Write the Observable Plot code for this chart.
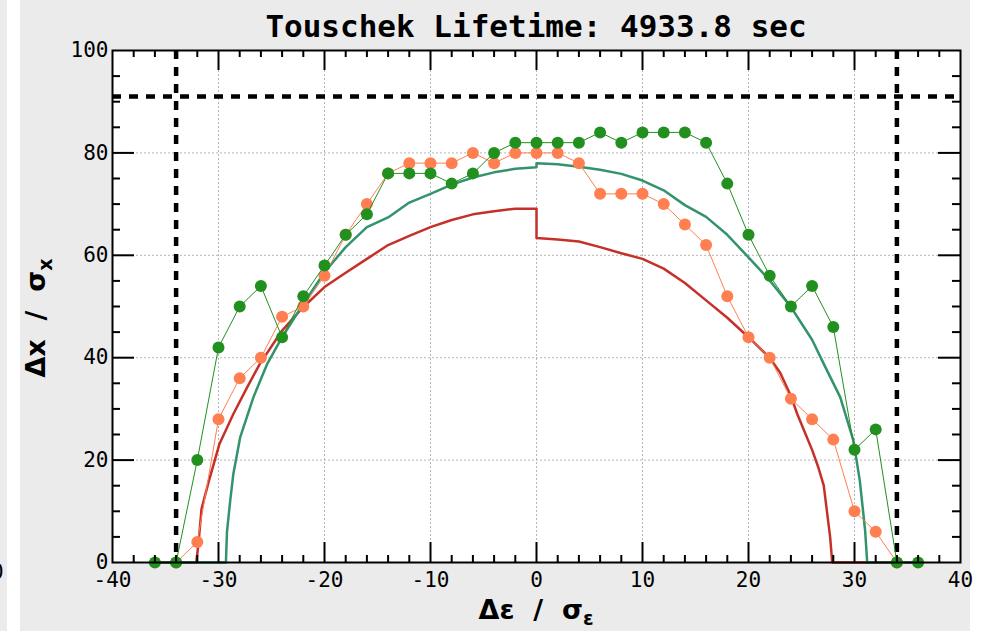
<!DOCTYPE html>
<html><head><meta charset="utf-8">
<script src="https://cdn.jsdelivr.net/npm/d3@7"></script>
<script src="https://cdn.jsdelivr.net/npm/@observablehq/plot@0.6"></script>
<style>
html,body{margin:0;padding:0;background:#fff;width:982px;height:631px;overflow:hidden}
#strip{position:absolute;left:0;top:0;width:7px;height:631px;background:#ebebeb;overflow:hidden}
#strip span{position:absolute;left:-9px;top:560px;font:21px "DejaVu Sans Mono";color:#000}
#chart{position:absolute;left:20px;top:0}
</style>
</head><body>
<div id="strip"><span>0</span></div>
<div id="chart"></div>
<script>
// ---- data ----
const titleText = "Touschek Lifetime: 4933.8 sec";
const xTicks = [-40, -30, -20, -10, 0, 10, 20, 30, 40];
const yTicks = [0, 20, 40, 60, 80, 100];
const gridX = [-30, -20, -10, 0, 10, 20, 30];
const gridY = [20, 40, 60, 80];
const limitX = [-34, 34];
const limitY = [91];

const greenX = [-36,-34,-32,-30,-28,-26,-24,-22,-20,-18,-16,-14,-12,-10,-8,-6,-4,-2,0,2,4,6,8,10,12,14,16,18,20,22,24,26,28,30,32,34,36];
const greenY = [0,0,20,42,50,54,44,52,58,64,68,76,76,76,74,76,80,82,82,82,82,84,82,84,84,84,82,74,64,56,50,54,46,22,26,0,0];

const orangeX = [-34,-32,-30,-28,-26,-24,-22,-20,-18,-16,-14,-12,-10,-8,-6,-4,-2,0,2,4,6,8,10,12,14,16,18,20,22,24,26,28,30,32,34];
const orangeY = [0,4,28,36,40,48,50,56,64,70,76,78,78,78,80,78,80,80,80,78,72,72,72,70,66,62,52,44,40,32,28,24,10,6,0];

const redX = [-36,-32.1,-31.9,-31.6,-30.9,-29.9,-28.6,-27.3,-26.1,-24,-22,-20,-18,-16,-14,-12,-10,-8,-6,-4,-2,0,0,2,4,6,8,10,12,14,16,18,20,22,23,24,24.6,25.3,26,26.6,27.1,27.4,27.7,27.9,36];
const redY = [0,0,3.5,10.5,16,23.2,29,34.2,38.8,45.3,49.9,53.8,56.6,59.3,62,63.8,65.5,66.9,68,68.6,69.1,69.1,63.4,63.1,62.7,61.6,60.4,59.3,57.4,54.6,51.2,47.8,44,40,37,32.5,29,25.5,22,18.5,15,10,5,0,0];

const tealX = [-36,-29.3,-29.2,-28.9,-28.6,-27.95,-26.7,-25.4,-24,-22,-20,-18,-16,-14,-12,-10,-8,-6,-4,-2,0,0,2,4,6,8,10,12,14,16,18,20,22,24,26,27.1,28.65,29.9,30.5,31,31.2,36];
const tealY = [0,0,6,12,17.3,24.5,32.3,38.8,44,50.5,56.7,61.6,65.5,67.4,70.3,72,73.8,75.2,76.2,76.9,77.2,78,77.8,77.3,76.7,75.9,74.6,72.7,69.8,67.5,64,59.6,55.1,49.9,43.5,38.8,32.3,23.8,16,6.3,0,0];

const xMinor = d3.range(-38, 40, 2).filter(v => v % 10 !== 0);
const xMajor = [-30, -20, -10, 0, 10, 20, 30];
const yMinor = [5, 10, 15, 25, 30, 35, 45, 50, 55, 65, 70, 75, 85, 90, 95];
const yMajor = [20, 40, 60, 80];

// ---- build ----
const zip = (xs, ys) => xs.map((x, i) => ({x, y: ys[i]}));
const green = zip(greenX, greenY);
const orange = zip(orangeX, orangeY);
const red = zip(redX, redY);
const teal = zip(tealX, tealY);

const W = 950, H = 631, mL = 92, mR = 10, mT = 50, mB = 69;
const pW = W - mL - mR, pH = H - mT - mB;

const cGreen = "#22901f", cOrange = "#ff7f50", cTeal = "#33936c", cRed = "#c5312a";

const plot = Plot.plot({
  width: W, height: H,
  marginLeft: mL, marginRight: mR, marginTop: mT, marginBottom: mB,
  x: {domain: [-40, 40]},
  y: {domain: [0, 100]},
  style: {background: "#ebebeb", fontFamily: "DejaVu Sans Mono", fontSize: "21px", color: "#000", overflow: "visible"},
  marks: [
    Plot.frame({fill: "white", stroke: null}),
    Plot.ruleX(gridX, {x: d => d, stroke: "#b5b5b5", strokeWidth: 1, strokeDasharray: "2,2"}),
    Plot.ruleY(gridY, {y: d => d, stroke: "#b5b5b5", strokeWidth: 1, strokeDasharray: "2,2"}),
    Plot.ruleX(limitX, {x: d => d, stroke: "black", strokeWidth: 4.5, strokeDasharray: "9,8"}),
    Plot.ruleY(limitY, {y: d => d, stroke: "black", strokeWidth: 4.5, strokeDasharray: "9,8"}),
    Plot.line(red, {x: "x", y: "y", stroke: cRed, strokeWidth: 2.5}),
    Plot.line(teal, {x: "x", y: "y", stroke: cTeal, strokeWidth: 2.5}),
    Plot.line(orange, {x: "x", y: "y", stroke: cOrange, strokeWidth: 1}),
    Plot.dot(orange, {x: "x", y: "y", r: 6, fill: cOrange, stroke: null}),
    Plot.line(green, {x: "x", y: "y", stroke: cGreen, strokeWidth: 1}),
    Plot.dot(green, {x: "x", y: "y", r: 6, fill: cGreen, stroke: null}),
    // inward ticks
    Plot.tickX(xMinor, {x: d => d, insetTop: pH - 7, stroke: "black", strokeWidth: 2}),
    Plot.tickX(xMinor, {x: d => d, insetBottom: pH - 7, stroke: "black", strokeWidth: 2}),
    Plot.tickX(xMajor, {x: d => d, insetTop: pH - 20, stroke: "black", strokeWidth: 2}),
    Plot.tickX(xMajor, {x: d => d, insetBottom: pH - 20, stroke: "black", strokeWidth: 2}),
    Plot.tickY(yMinor, {y: d => d, insetRight: pW - 8, stroke: "black", strokeWidth: 2}),
    Plot.tickY(yMinor, {y: d => d, insetLeft: pW - 8, stroke: "black", strokeWidth: 2}),
    Plot.tickY(yMajor, {y: d => d, insetRight: pW - 22, stroke: "black", strokeWidth: 2}),
    Plot.tickY(yMajor, {y: d => d, insetLeft: pW - 22, stroke: "black", strokeWidth: 2}),
    Plot.frame({stroke: "black", strokeWidth: 2}),
    Plot.axisX({ticks: xTicks, tickSize: 0, tickPadding: 10, tickFormat: d => String(d), label: null}),
    Plot.axisY({ticks: yTicks, tickSize: 0, tickPadding: 4, tickFormat: d => String(d), label: null})
  ]
});

const svg = d3.select(plot);
svg.append("text")
  .attr("x", mL + pW / 2).attr("y", 37)
  .attr("text-anchor", "middle")
  .attr("font-family", "DejaVu Sans Mono").attr("font-weight", "bold").attr("font-size", 31)
  .attr("fill", "#000")
  .text(titleText);

const xl = svg.append("text")
  .attr("x", mL + pW / 2).attr("y", 619)
  .attr("text-anchor", "middle")
  .attr("font-family", "DejaVu Sans").attr("font-weight", "bold").attr("font-size", 27)
  .attr("fill", "#000").style("white-space", "pre");
xl.append("tspan").text("Δε  /  σ");
xl.append("tspan").attr("font-size", 19).attr("dy", 6).text("ε");

const yl = svg.append("text")
  .attr("transform", `translate(25,${mT + pH / 2 + 12}) rotate(-90)`)
  .attr("text-anchor", "middle")
  .attr("font-family", "DejaVu Sans").attr("font-weight", "bold").attr("font-size", 27)
  .attr("fill", "#000").style("white-space", "pre");
yl.append("tspan").text("Δx  /  σ");
yl.append("tspan").attr("font-size", 19).attr("dy", 7).text("x");

document.getElementById("chart").appendChild(plot);
</script>
</body></html>
